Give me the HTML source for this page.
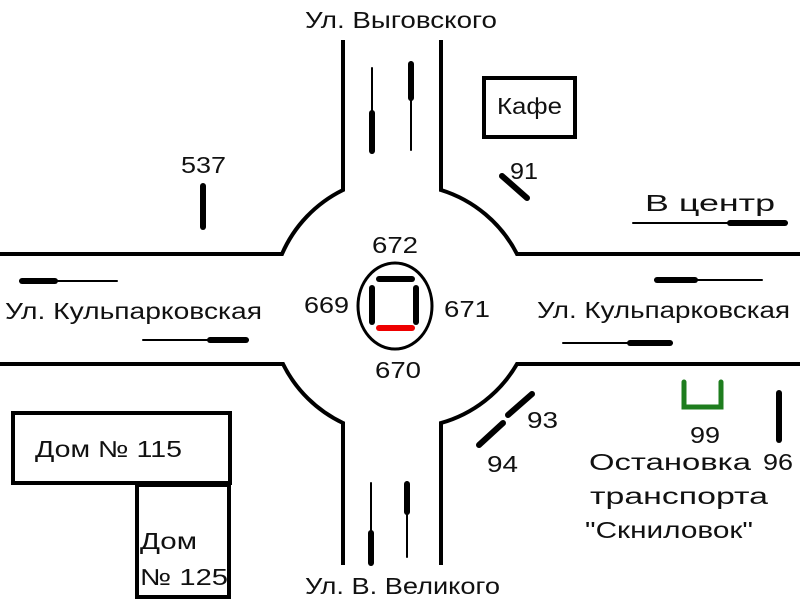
<!DOCTYPE html>
<html><head><meta charset="utf-8"><style>
html,body{margin:0;padding:0;background:#fff}
svg{display:block}
text{font-family:"Liberation Sans",Arial,sans-serif;font-size:23px;fill:#111}
</style></head><body>
<svg width="800" height="600" viewBox="0 0 800 600" xmlns="http://www.w3.org/2000/svg">
<g fill="none" stroke="#000" stroke-width="4">
<path d="M343,40 V190 A128,128 0 0 0 282,254 H0"/>
<path d="M441,40 V190 A128,128 0 0 1 517,254 H800"/>
<path d="M0,364 H283 A128,128 0 0 0 343,423 V565"/>
<path d="M800,364 H517 A128,128 0 0 1 441,423 V565"/>
<rect x="484" y="78" width="91" height="59"/>
<rect x="13" y="413" width="217" height="70"/>
<rect x="137" y="485" width="92" height="112"/>
<ellipse cx="395" cy="306" rx="37" ry="43" stroke-width="3"/>
</g>
<g stroke="#000" stroke-linecap="round">
<g stroke-width="2">
<line x1="20" y1="281" x2="117" y2="281"/>
<line x1="143" y1="340" x2="248" y2="340"/>
<line x1="633" y1="223" x2="787" y2="223"/>
<line x1="655" y1="280" x2="762" y2="280"/>
<line x1="563" y1="343" x2="672" y2="343"/>
<line x1="372" y1="68" x2="372" y2="153"/>
<line x1="411" y1="62" x2="411" y2="150"/>
<line x1="371" y1="483" x2="371" y2="565"/>
<line x1="407" y1="482" x2="407" y2="557"/>
</g>
<g stroke-width="6">
<line x1="22" y1="281" x2="55" y2="281"/>
<line x1="210" y1="340" x2="246" y2="340"/>
<line x1="730" y1="223" x2="785" y2="223"/>
<line x1="657" y1="280" x2="695" y2="280"/>
<line x1="630" y1="343" x2="670" y2="343"/>
<line x1="372" y1="113" x2="372" y2="151"/>
<line x1="411" y1="64" x2="411" y2="98"/>
<line x1="371" y1="533" x2="371" y2="563"/>
<line x1="407" y1="484" x2="407" y2="512"/>
<line x1="203" y1="186" x2="203" y2="227"/>
<line x1="502" y1="176" x2="527" y2="198"/>
<line x1="508" y1="415" x2="532" y2="394"/>
<line x1="479" y1="445" x2="503" y2="423"/>
<line x1="779" y1="393" x2="779" y2="440"/>
<line x1="379" y1="279" x2="412" y2="279"/>
<line x1="372" y1="288" x2="372" y2="322"/>
<line x1="416" y1="288" x2="416" y2="322"/>
</g>
<line x1="379" y1="328" x2="412" y2="328" stroke="#e00" stroke-width="6"/>
<path d="M684,382 V407 H721 V382" fill="none" stroke="#1e7d1e" stroke-width="5"/>
</g>
<g lengthAdjust="spacingAndGlyphs">
<text x="305" y="28" textLength="192" lengthAdjust="spacingAndGlyphs">Ул. Выговского</text>
<text x="497" y="114" textLength="65" lengthAdjust="spacingAndGlyphs">Кафе</text>
<text x="181" y="173" textLength="45" lengthAdjust="spacingAndGlyphs">537</text>
<text x="510" y="179" textLength="28" lengthAdjust="spacingAndGlyphs">91</text>
<text x="645" y="211" textLength="130" lengthAdjust="spacingAndGlyphs">В центр</text>
<text x="372" y="253" textLength="46" lengthAdjust="spacingAndGlyphs">672</text>
<text x="304" y="313" textLength="45" lengthAdjust="spacingAndGlyphs">669</text>
<text x="444" y="317" textLength="46" lengthAdjust="spacingAndGlyphs">671</text>
<text x="375" y="378" textLength="46" lengthAdjust="spacingAndGlyphs">670</text>
<text x="5" y="319" textLength="257" lengthAdjust="spacingAndGlyphs">Ул. Кульпарковская</text>
<text x="537" y="318" textLength="253" lengthAdjust="spacingAndGlyphs">Ул. Кульпарковская</text>
<text x="527" y="428" textLength="31" lengthAdjust="spacingAndGlyphs">93</text>
<text x="487" y="472" textLength="31" lengthAdjust="spacingAndGlyphs">94</text>
<text x="690" y="443" textLength="30" lengthAdjust="spacingAndGlyphs">99</text>
<text x="763" y="470" textLength="30" lengthAdjust="spacingAndGlyphs">96</text>
<text x="589" y="470" textLength="162" lengthAdjust="spacingAndGlyphs">Остановка</text>
<text x="590" y="504" textLength="178" lengthAdjust="spacingAndGlyphs">транспорта</text>
<text x="585" y="538" textLength="168" lengthAdjust="spacingAndGlyphs">"Скниловок"</text>
<text x="35" y="457" textLength="147" lengthAdjust="spacingAndGlyphs">Дом № 115</text>
<text x="140" y="549" textLength="57" lengthAdjust="spacingAndGlyphs">Дом</text>
<text x="140" y="585" textLength="88" lengthAdjust="spacingAndGlyphs">№ 125</text>
<text x="305" y="594" textLength="195" lengthAdjust="spacingAndGlyphs">Ул. В. Великого</text>
</g>
</svg>
</body></html>
